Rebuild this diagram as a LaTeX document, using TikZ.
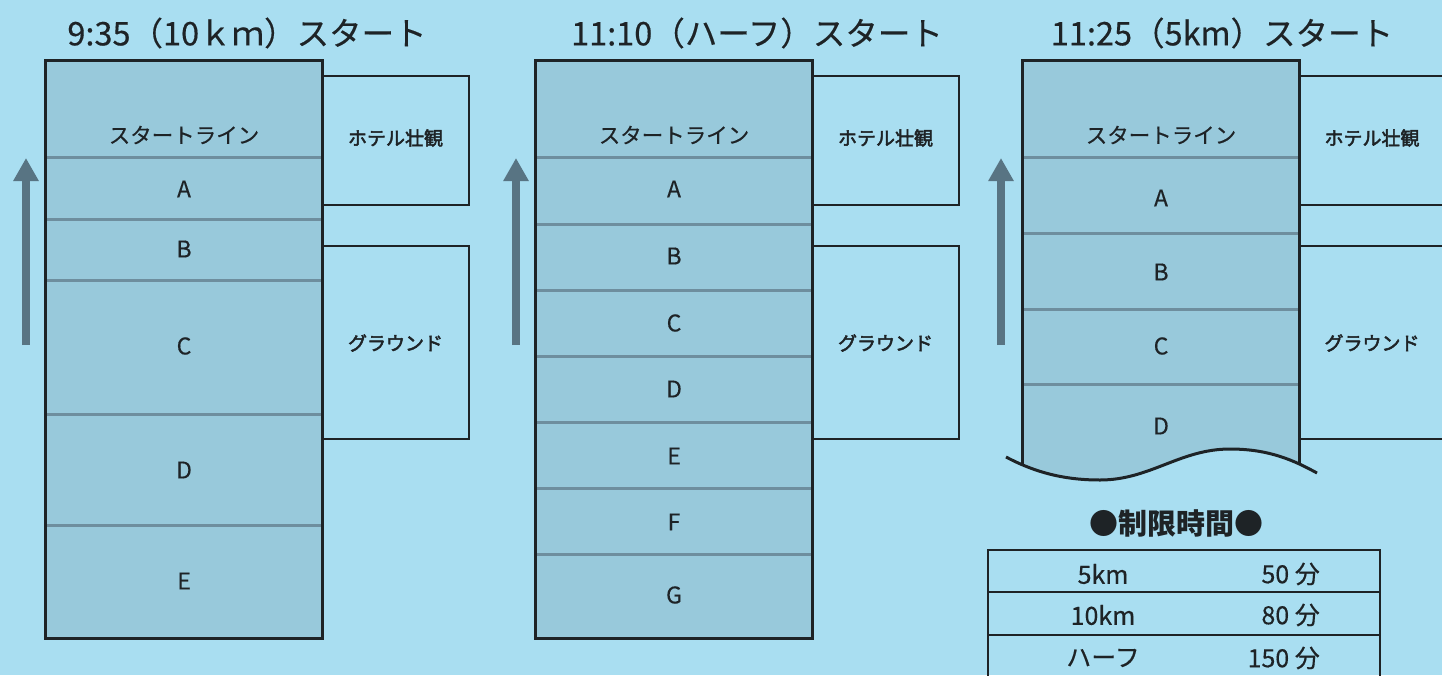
\documentclass[tikz,border=0pt]{standalone}
\usepackage{fontspec}
\setmainfont[FakeBold=0.35]{Noto Sans CJK JP}
\newfontfamily\jpsemi[FakeBold=2.5]{Noto Sans CJK JP}
\newfontfamily\jpplain{Noto Sans CJK JP}
\usetikzlibrary{arrows.meta}
\definecolor{bg}{HTML}{A9DEF1}
\definecolor{lane}{HTML}{98C9DB}
\definecolor{divline}{HTML}{6E8E9E}
\definecolor{ink}{HTML}{1E2326}
\definecolor{arrowc}{HTML}{587483}
\begin{document}
\begin{tikzpicture}[x=1pt,y=-1pt,
  title/.style={inner sep=0pt,text=ink,font=\fontsize{32.5}{37}\selectfont},
  lanetxt/.style={inner sep=0pt,text=ink,font=\fontsize{21.5}{25}\selectfont},
  lettertxt/.style={inner sep=0pt,text=ink,font=\fontsize{23}{27}\selectfont},
  sidetxt/.style={inner sep=0pt,text=ink,font=\fontsize{19}{23}\jpsemi},
  tabtxt/.style={inner sep=0pt,text=ink,font=\fontsize{25}{29}\selectfont},
  lanebox/.style={fill=lane,draw=ink,line width=3pt},
  divider/.style={draw=divline,line width=3pt},
  sidebox/.style={draw=ink,line width=1.3pt},
  uparrow/.style={draw=arrowc,line width=8pt,-{Triangle[width=24pt,length=23pt]}},
  tabline/.style={draw=ink,line width=2.5pt}]
\fill[bg] (0,0) rectangle (1442,675);
\useasboundingbox (0,0) rectangle (1442,675);

% ---------- Panel 1 ----------
\node[title] (t1) at (247,33) {9:35（10ｋｍ）スタート};
\draw[sidebox] (322,76) rectangle (469,205);
\draw[sidebox] (322,246) rectangle (469,439);
\node[sidetxt] (h1) at (395.5,138) {ホテル壮観};
\node[sidetxt] (g1) at (395.5,343) {グラウンド};
\fill[lane] (45,60) rectangle (322,638);
\foreach \y in {157,219,280,414,525} \draw[divider] (46.5,\y) -- (320.5,\y);
\draw[draw=ink,line width=3pt] (45,60) rectangle (322,638);
\node[lanetxt] (s1) at (184,135) {スタートライン};
\node[lettertxt] (p1a) at (184,189) {A};
\node[lettertxt] (p1b) at (184,249) {B};
\node[lettertxt] (p1c) at (184,346) {C};
\node[lettertxt] (p1d) at (184,470) {D};
\node[lettertxt] (p1e) at (184,581) {E};
\coordinate (a1s) at (26,345);
\coordinate (a1e) at (26,158);
\draw[uparrow] (a1s) -- (a1e);

% ---------- Panel 2 ----------
\node[title] (t2) at (757,33) {11:10（ハーフ）スタート};
\draw[sidebox] (812,76) rectangle (959,205);
\draw[sidebox] (812,246) rectangle (959,439);
\node[sidetxt] (h2) at (885.5,138) {ホテル壮観};
\node[sidetxt] (g2) at (885.5,343) {グラウンド};
\fill[lane] (535,60) rectangle (812,638);
\foreach \y in {157,224,290,356,422,488,554} \draw[divider] (536.5,\y) -- (810.5,\y);
\draw[draw=ink,line width=3pt] (535,60) rectangle (812,638);
\node[lanetxt] (s2) at (674,135) {スタートライン};
\node[lettertxt] (p2a) at (674,189) {A};
\node[lettertxt] (p2b) at (674,256) {B};
\node[lettertxt] (p2c) at (674,323) {C};
\node[lettertxt] (p2d) at (674,389) {D};
\node[lettertxt] (p2e) at (674,456) {E};
\node[lettertxt] (p2f) at (674,522) {F};
\node[lettertxt] (p2g) at (674,595) {G};
\coordinate (a2s) at (516,345);
\coordinate (a2e) at (516,158);
\draw[uparrow] (a2s) -- (a2e);

% ---------- Panel 3 ----------
\node[title] (t3) at (1222,33) {11:25（5km）スタート};
\draw[sidebox] (1460,76) -- (1299,76) -- (1299,205) -- (1460,205);
\draw[sidebox] (1460,246) -- (1299,246) -- (1299,439) -- (1460,439);
\node[sidetxt] (h3) at (1372,138) {ホテル壮観};
\node[sidetxt] (g3) at (1372,343) {グラウンド};
\begin{scope}
\clip (1006,457) .. controls (1040,475) and (1070,480) .. (1100,480)
  .. controls (1150,480) and (1180,449) .. (1230,449)
  .. controls (1270,449) and (1295,461) .. (1317,473) -- (1317,0) -- (1006,0) -- cycle;
\fill[lane] (1022,60) rectangle (1299,500);
\foreach \y in {157,233,309,384} \draw[divider] (1023.5,\y) -- (1297.5,\y);
\draw[draw=ink,line width=3pt] (1022,500) -- (1022,60) -- (1299,60) -- (1299,500);
\end{scope}
\draw[draw=ink,line width=3pt] (1006,457) .. controls (1040,475) and (1070,480) .. (1100,480)
  .. controls (1150,480) and (1180,449) .. (1230,449)
  .. controls (1270,449) and (1295,461) .. (1317,473);
\node[lanetxt] (s3) at (1161,135) {スタートライン};
\node[lettertxt] (p3a) at (1161,198) {A};
\node[lettertxt] (p3b) at (1161,272) {B};
\node[lettertxt] (p3c) at (1161,346) {C};
\node[lettertxt] (p3d) at (1161,426) {D};
\coordinate (a3s) at (1001,345);
\coordinate (a3e) at (1001,158);
\draw[uparrow] (a3s) -- (a3e);

% ---------- Table ----------
\node[inner sep=0pt,text=ink,font=\fontsize{29}{34}\jpplain\bfseries] (tt) at (1176,523) {●制限時間●};
\draw[tabline] (988,700) -- (988,550) -- (1380,550) -- (1380,700);
\draw[tabline] (988,592) -- (1380,592);
\draw[tabline] (988,635) -- (1380,635);
\node[tabtxt] (r1a) at (1103,574) {5km};
\node[tabtxt,anchor=east] (r1b) at (1320,574) {50 分};
\node[tabtxt] (r2a) at (1103,615) {10km};
\node[tabtxt,anchor=east] (r2b) at (1320,615) {80 分};
\node[tabtxt] (r3a) at (1103,658) {ハーフ};
\node[tabtxt,anchor=east] (r3b) at (1320,658) {150 分};
\end{tikzpicture}
\end{document}
